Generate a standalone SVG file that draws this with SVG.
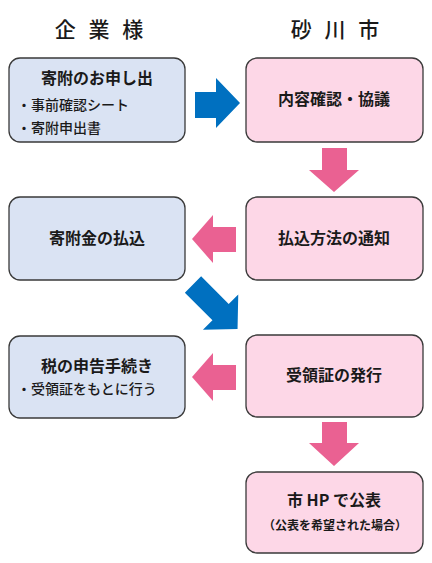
<svg xmlns="http://www.w3.org/2000/svg" width="432" height="563" viewBox="0 0 432 563">
<style>
text{font-family:"Noto Sans CJK JP","Noto Sans",sans-serif;fill:#1a1a1a}
.h{font-size:21px;font-weight:500;text-anchor:middle;letter-spacing:4px}
.t{font-size:16px;font-weight:bold;text-anchor:middle}
.s{font-size:14px;font-weight:500}
.n{font-size:12px;font-weight:bold;text-anchor:middle}
.blue{fill:#dae3f3;stroke:#3a3a3a;stroke-width:1.3}
.pink{fill:#fdd7e7;stroke:#3a3a3a;stroke-width:1.3}
.ab{fill:#0070c0}
.ap{fill:#ea6192}
</style>
<rect width="432" height="563" fill="#ffffff"/>
<g id="headings">
<text class="h" x="101" y="37">企 業 様</text>
<text class="h" x="337" y="37">砂 川 市</text>
</g>
<g id="node-moushide">
<rect class="blue" x="9" y="58" width="176" height="84" rx="11"/>
<text class="t" x="97" y="84">寄附のお申し出</text>
<text class="s" x="17" y="110">・事前確認シート</text>
<text class="s" x="17" y="133">・寄附申出書</text>
</g>
<g id="node-kyogi">
<rect class="pink" x="246" y="58" width="177" height="84" rx="11"/>
<text class="t" x="334" y="105">内容確認・協議</text>
</g>
<g id="node-haraikomi">
<rect class="blue" x="9" y="197" width="176" height="83" rx="11"/>
<text class="t" x="97" y="244">寄附金の払込</text>
</g>
<g id="node-tsuchi">
<rect class="pink" x="246" y="197" width="177" height="83" rx="11"/>
<text class="t" x="334" y="244">払込方法の通知</text>
</g>
<g id="node-shinkoku">
<rect class="blue" x="9" y="336" width="176" height="82" rx="11"/>
<text class="t" x="97" y="372">税の申告手続き</text>
<text class="s" x="17" y="394">・受領証をもとに行う</text>
</g>
<g id="node-hakko">
<rect class="pink" x="246" y="335" width="177" height="82" rx="11"/>
<text class="t" x="334" y="381">受領証の発行</text>
</g>
<g id="node-koho">
<rect class="pink" x="246" y="472" width="177" height="81" rx="11"/>
<text class="t" x="334" y="506">市 HP で公表</text>
<text class="n" x="335" y="530">（公表を希望された場合）</text>
</g>
<g id="connectors">
<polygon class="ab" points="195,92 216,92 216,78 240,103 216,128 216,118 195,118"/>
<polygon class="ap" points="322,148 347,148 347,170 359,170 334,192 309,170 322,170"/>
<polygon class="ap" points="236,227 213,227 213,215 192,239 213,263 213,252 236,252"/>
<polygon class="ab" transform="translate(193,284.5) rotate(45)" points="0,-11.5 39,-11.5 39,-25 63,0 39,25 39,11.5 0,11.5"/>
<polygon class="ap" points="236,365 213,365 213,353 192,377 213,401 213,390 236,390"/>
<polygon class="ap" points="322,422 347,422 347,443 359,443 334,466 309,443 322,443"/>
</g>
</svg>
